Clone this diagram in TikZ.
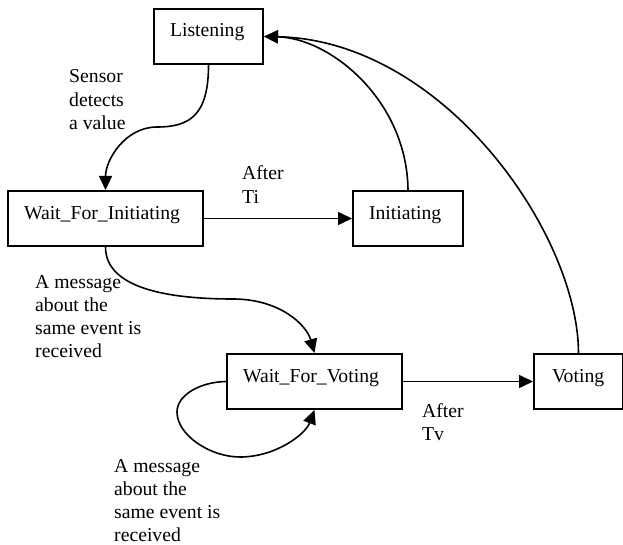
\documentclass[tikz,border=0pt]{standalone}
\usepackage{fontspec}
\setmainfont{Liberation Serif}
\usetikzlibrary{arrows.meta}
\begin{document}
\begin{tikzpicture}[x=1bp,y=-1bp,
  font=\fontsize{19.7bp}{23.3bp}\selectfont,
  state/.style={draw,line width=2bp,rectangle,inner xsep=16bp,inner ysep=0pt,
    text height=28bp,text depth=27bp,align=left,anchor=north west},
  lbl/.style={align=left,anchor=base west,inner sep=0pt},
  conn/.style={line width=1.6bp,-{Triangle[length=14bp,width=13bp]}}]
\useasboundingbox (0,0) rectangle (623,545);
\node[state,text width=77bp] (lis) at (153,8) {Listening};
\node[state,text width=163bp] (wfi) at (7,190) {Wait\_For\_Initiating};
\node[state,text width=78bp] (ini) at (352,190) {Initiating};
\node[state,text width=143bp] (wfv) at (226,353) {Wait\_For\_Voting};
\node[state,text width=53bp,inner xsep=18bp] (vot) at (533,353) {Voting};
\coordinate (m1) at (157,127);
\coordinate (m2) at (233,299);
\coordinate (s1) at (177,412);
\coordinate (s2) at (240,457);
\draw[conn] (lis.south) .. controls +(0,50) and +(33,0) .. (m1)
  .. controls +(-32,0) and +(0,-30) .. (wfi.north);
\draw[conn] (wfi.east) -- (ini.west);
\draw[conn] (ini.north) .. controls (407,100) and (330,38) .. (lis.east);
\draw[conn] (vot.north) .. controls (578,233) and (443,40) .. (lis.east);
\draw[conn] (wfi.south) .. controls +(0,45) and +(-53,0) .. (m2)
  .. controls +(47,0) and +(-8,-28) .. (wfv.north);
\draw[conn] (wfv.east) -- (vot.west);
\draw[conn] (wfv.west) .. controls (200,382) and (177,395) .. (s1)
  .. controls (177,435) and (210,457) .. (s2)
  .. controls (275,457) and (305,435) .. (wfv.south);
\node[lbl] (l1) at (69,129.6) {Sensor\\detects\\a value};
\node[lbl] (l2) at (242,203.3) {After\\Ti};
\node[lbl] (l3) at (35,357.9) {A message\\about the\\same event is\\received};
\node[lbl] (l4) at (422,440.3) {After\\Tv};
\node[lbl] (l5) at (114,541.9) {A message\\about the\\same event is\\received};
\end{tikzpicture}
\end{document}
